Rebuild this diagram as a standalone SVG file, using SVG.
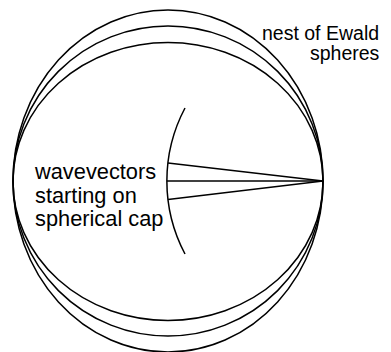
<svg xmlns="http://www.w3.org/2000/svg" width="391" height="352" viewBox="0 0 391 352">
<style>
.sph{fill:none;stroke:#000;stroke-width:1.5}
.ln{fill:none;stroke:#000;stroke-width:1.5}
.lbl{font-family:"Liberation Sans",Arial,sans-serif;fill:#000}
</style>
<rect width="391" height="352" fill="#fff"/>
<g id="spheres">
<ellipse class="sph" cx="168" cy="181" rx="155" ry="171"/>
<ellipse class="sph" cx="168" cy="181" rx="155" ry="155"/>
<ellipse class="sph" cx="168" cy="181.5" rx="155" ry="139"/>
</g>
<g id="cap">
<path class="ln" d="M185,108 A156,156 0 0,0 185,254"/>
</g>
<g id="connectors">
<path class="ln" d="M168,163 L323,181"/>
<path class="ln" d="M167,181 L323,181"/>
<path class="ln" d="M168,199.5 L323,181"/>
</g>
<g id="label-ewald">
<text class="lbl" font-size="19.5" x="262" y="39.5">nest of Ewald</text>
<text class="lbl" font-size="19.5" x="310" y="59.5">spheres</text>
</g>
<g id="label-cap">
<text class="lbl" font-size="21.8" x="35" y="178.5">wavevectors</text>
<text class="lbl" font-size="21.8" x="35" y="202.5">starting on</text>
<text class="lbl" font-size="21.8" x="35" y="225.5">spherical cap</text>
</g>
</svg>
